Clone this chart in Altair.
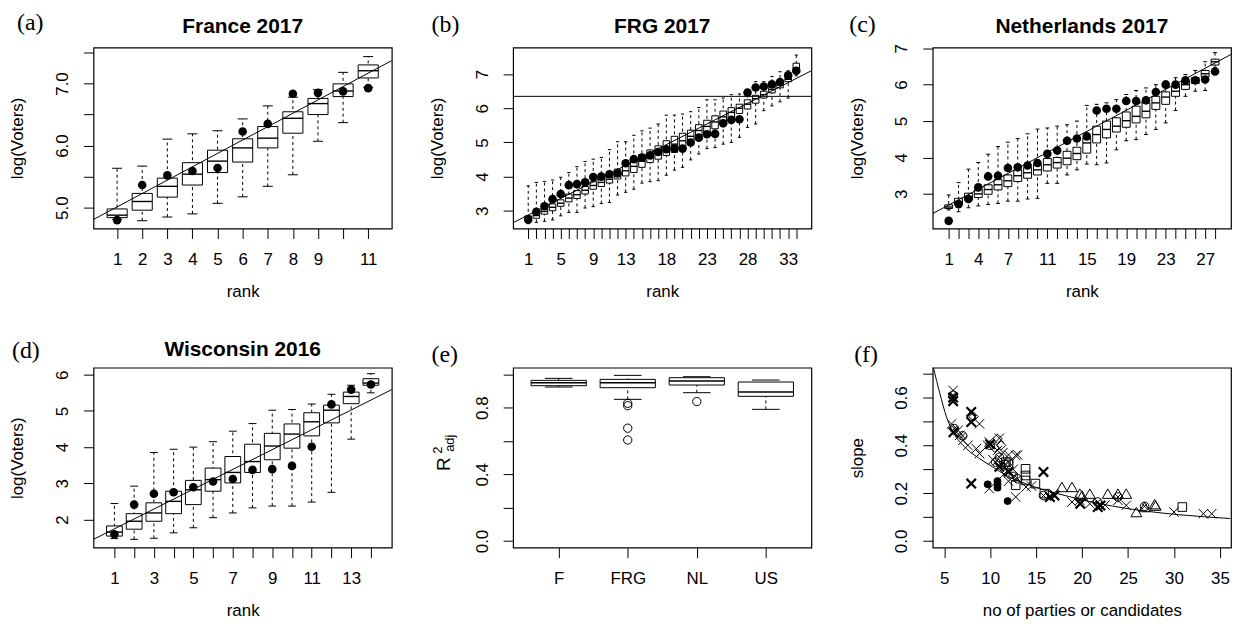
import json
import altair as alt
import pandas as pd

SANS = "Liberation Sans"
SERIF = "Liberation Serif"

# ---------------- (a) France 2017 ----------------
fr_rank = list(range(1, 12))
fr_wlo = [4.81, 4.79, 4.85, 4.90, 5.07, 5.175, 5.344, 5.53, 6.07, 6.37, 6.94]
fr_q1 = [4.84, 4.96, 5.17, 5.365, 5.566, 5.735, 5.963, 6.20, 6.50, 6.79, 7.09]
fr_med = [4.88, 5.10, 5.344, 5.54, 5.75, 5.963, 6.12, 6.44, 6.677, 6.88, 7.206]
fr_q3 = [4.98, 5.23, 5.476, 5.725, 5.926, 6.11, 6.307, 6.545, 6.76, 6.995, 7.30]
fr_whi = [5.635, 5.67, 6.105, 6.19, 6.24, 6.43, 6.64, 6.78, 6.90, 7.18, 7.434]
fr_obs = [4.80, 5.365, 5.52, 5.59, 5.64, 6.228, 6.35, 6.836, 6.85, 6.873, 6.926]
fr_line_x = [0.06, 11.94]
fr_line_y = [4.81, 7.37]
fr_xshown = [1, 2, 3, 4, 5, 6, 7, 8, 9, 11]
fr_yticks = [5.0, 5.5, 6.0, 6.5, 7.0, 7.5]
fr_yshown = [5.0, 6.0, 7.0]

# ---------------- (b) FRG 2017 ----------------
frg_rank = list(range(1, 35))
frg_wlo = [2.62, 2.66, 2.69, 2.73, 2.85, 2.95, 2.95, 3.08, 3.12, 3.21, 3.24, 3.46, 3.54, 3.63, 3.81, 3.85, 3.88,
           4.04, 4.19, 4.27, 4.49, 4.66, 4.82, 4.85, 4.95, 5.00, 5.15, 5.44, 5.54, 5.93, 6.07, 6.19, 6.30, 6.95]
frg_q1 = [2.72, 2.78, 2.90, 3.00, 3.13, 3.26, 3.36, 3.49, 3.63, 3.71, 3.81, 3.93, 4.02, 4.12, 4.27, 4.41, 4.51,
          4.62, 4.71, 4.82, 5.00, 5.18, 5.27, 5.40, 5.58, 5.72, 5.85, 5.98, 6.15, 6.30, 6.45, 6.60, 6.78, 7.07]
frg_med = [2.78, 2.86, 2.98, 3.10, 3.22, 3.37, 3.47, 3.60, 3.74, 3.83, 3.92, 4.07, 4.17, 4.30, 4.45, 4.60, 4.72,
           4.85, 4.95, 5.05, 5.18, 5.35, 5.47, 5.60, 5.75, 5.88, 6.00, 6.12, 6.28, 6.40, 6.55, 6.68, 6.85, 7.18]
frg_q3 = [2.85, 2.93, 3.05, 3.20, 3.32, 3.49, 3.59, 3.71, 3.85, 3.95, 4.02, 4.22, 4.32, 4.50, 4.65, 4.78, 4.90,
          5.05, 5.18, 5.27, 5.36, 5.52, 5.65, 5.78, 5.92, 6.02, 6.12, 6.25, 6.38, 6.50, 6.62, 6.75, 6.95, 7.32]
frg_whi = [3.73, 3.83, 3.86, 3.90, 3.98, 4.12, 4.29, 4.44, 4.51, 4.56, 4.79, 5.02, 5.02, 5.21, 5.34, 5.42, 5.54,
           5.80, 5.80, 5.83, 5.90, 6.02, 6.25, 6.25, 6.30, 6.40, 6.42, 6.51, 6.78, 6.78, 6.93, 7.07, 7.10, 7.56]
frg_obs = [2.74, 2.97, 3.13, 3.34, 3.49, 3.75, 3.78, 3.83, 3.99, 4.00, 4.07, 4.09, 4.39, 4.51, 4.56, 4.62, 4.72,
           4.80, 4.82, 4.82, 5.00, 5.14, 5.24, 5.25, 5.56, 5.66, 5.68, 6.46, 6.61, 6.64, 6.70, 6.77, 6.97, 7.10]
frg_line_x = [-0.86, 35.86]
frg_line_y = [2.65, 7.10]
frg_hline = [6.35]
frg_xshown = [1, 5, 9, 13, 18, 23, 28, 33]
frg_yticks = [3, 4, 5, 6, 7]

# ---------------- (c) Netherlands 2017 ----------------
nl_rank = list(range(1, 29))
nl_wlo = [2.56, 2.51, 2.62, 2.67, 2.71, 2.74, 2.80, 2.80, 2.86, 2.88, 3.29, 3.29, 3.52, 3.66, 3.82, 3.80, 3.85,
          4.21, 4.46, 4.49, 4.63, 4.77, 4.95, 5.29, 5.68, 5.82, 5.84, 6.47]
nl_q1 = [2.60, 2.70, 2.83, 2.90, 2.99, 3.11, 3.20, 3.34, 3.43, 3.52, 3.63, 3.71, 3.80, 3.94, 4.12, 4.40, 4.54,
         4.70, 4.83, 4.95, 5.09, 5.32, 5.46, 5.68, 5.87, 6.03, 6.21, 6.54]
nl_med = [2.64, 2.78, 2.92, 3.00, 3.12, 3.25, 3.36, 3.50, 3.58, 3.66, 3.80, 3.86, 3.98, 4.11, 4.40, 4.63, 4.77,
          4.86, 5.01, 5.13, 5.27, 5.50, 5.66, 5.82, 6.00, 6.12, 6.30, 6.63]
nl_q3 = [2.70, 2.88, 3.02, 3.12, 3.25, 3.39, 3.52, 3.66, 3.73, 3.80, 3.97, 4.00, 4.17, 4.28, 4.54, 4.86, 5.00,
         5.09, 5.25, 5.41, 5.50, 5.68, 5.80, 5.96, 6.10, 6.19, 6.39, 6.70]
nl_whi = [2.97, 3.31, 3.68, 3.86, 4.09, 4.30, 4.42, 4.52, 4.65, 4.78, 4.81, 4.86, 4.90, 5.00, 5.43, 5.46, 5.50,
          5.59, 5.73, 5.84, 5.91, 6.00, 6.10, 6.19, 6.28, 6.39, 6.63, 6.88]
nl_obs = [2.26, 2.72, 2.86, 3.18, 3.48, 3.50, 3.71, 3.73, 3.78, 3.85, 4.10, 4.19, 4.46, 4.52, 4.58, 5.29, 5.34,
          5.34, 5.55, 5.55, 5.57, 5.80, 6.00, 6.00, 6.12, 6.12, 6.14, 6.36]
nl_line_x = [-0.62, 29.62]
nl_line_y = [2.46, 6.83]
nl_xshown = [1, 4, 7, 11, 15, 19, 23, 27]
nl_yticks = [3, 4, 5, 6, 7]

# ---------------- (d) Wisconsin 2016 ----------------
wi_rank = list(range(1, 15))
wi_wlo = [1.47, 1.45, 1.48, 1.63, 1.77, 2.05, 2.18, 2.32, 2.37, 2.37, 2.48, 2.75, 4.22, 5.50]
wi_q1 = [1.54, 1.73, 1.95, 2.16, 2.41, 2.78, 3.01, 3.30, 3.65, 3.97, 4.31, 4.67, 5.20, 5.71]
wi_med = [1.65, 1.95, 2.18, 2.50, 2.82, 3.10, 3.30, 3.60, 4.03, 4.36, 4.70, 5.02, 5.40, 5.77]
wi_q3 = [1.82, 2.16, 2.46, 2.78, 3.08, 3.42, 3.74, 4.08, 4.38, 4.64, 4.95, 5.16, 5.52, 5.89]
wi_whi = [2.44, 2.92, 3.85, 3.94, 4.00, 4.15, 4.44, 4.65, 5.02, 5.04, 5.19, 5.46, 5.71, 6.03]
wi_obs = [1.59, 2.41, 2.71, 2.75, 2.89, 3.05, 3.12, 3.37, 3.39, 3.48, 4.01, 5.18, 5.59, 5.73]
wi_line_x = [-0.06, 15.06]
wi_line_y = [1.45, 5.59]
wi_xshown = [1, 3, 5, 7, 9, 11, 13]
wi_yticks = [2, 3, 4, 5, 6]

# ---------------- (e) adjusted R^2 ----------------
e_groups = ["F", "FRG", "NL", "US"]
e_wlo = [0.924, 0.85, 0.89, 0.79]
e_q1 = [0.932, 0.92, 0.936, 0.868]
e_med = [0.95, 0.95, 0.96, 0.894]
e_q3 = [0.964, 0.97, 0.98, 0.954]
e_whi = [0.976, 0.994, 0.986, 0.966]
e_out_group = ["FRG", "FRG", "FRG", "FRG", "NL"]
e_out_val = [0.826, 0.812, 0.677, 0.606, 0.837]
e_yticks = [0.0, 0.2, 0.4, 0.6, 0.8, 1.0]
e_yshown = [0.0, 0.4, 0.8]

# ---------------- (f) slope vs number of parties ----------------
f_cross_x = [5.97, 5.8, 6.5, 6.68, 7.04, 7.58, 8.5, 8.84, 8.84, 9.73, 9.9, 10.8, 11.0, 11.4, 12.0, 12.78, 13.0,
             9.9, 12.78, 13.9, 12.0, 11.5, 14.5, 16.9, 18.9, 19.76, 20.84, 23.9, 24.8, 30.0, 33.2, 34.1, 22.5,
             12.5, 11.2, 10.3]
f_cross_y = [0.63, 0.49, 0.463, 0.442, 0.421, 0.40, 0.386, 0.366, 0.49, 0.40, 0.414, 0.379, 0.43, 0.37, 0.36,
             0.358, 0.36, 0.219, 0.184, 0.226, 0.25, 0.28, 0.23, 0.198, 0.163, 0.17, 0.156, 0.17, 0.149, 0.121,
             0.114, 0.114, 0.15, 0.30, 0.32, 0.34]
f_bold_x = [5.97, 5.97, 7.94, 7.94, 7.94, 15.8, 16.5, 17.0, 19.8, 21.7, 22.0, 6.0, 10.0, 11.0, 12.0]
f_bold_y = [0.60, 0.585, 0.54, 0.498, 0.24, 0.289, 0.184, 0.19, 0.156, 0.142, 0.148, 0.455, 0.405, 0.31, 0.29]
f_otimes_x = [5.97, 6.1, 7.0, 10.6, 11.0, 11.6, 12.0, 12.5, 15.8, 21.7, 23.9, 26.8, 10.0, 13.0]
f_otimes_y = [0.61, 0.47, 0.44, 0.33, 0.35, 0.32, 0.33, 0.27, 0.19, 0.163, 0.184, 0.145, 0.40, 0.26]
f_diamond_x = [10.8, 11.2, 8.2, 10.5]
f_diamond_y = [0.428, 0.40, 0.52, 0.39]
f_square_x = [11.7, 12.0, 13.85, 13.85, 13.85, 14.92, 12.78, 15.9, 30.9]
f_square_y = [0.33, 0.32, 0.302, 0.274, 0.253, 0.24, 0.233, 0.198, 0.142]
f_tri_x = [17.8, 18.9, 20.0, 19.76, 20.84, 22.8, 23.9, 24.8, 25.9, 26.8, 27.9, 28.0]
f_tri_y = [0.226, 0.226, 0.19, 0.198, 0.198, 0.198, 0.198, 0.198, 0.121, 0.142, 0.154, 0.148]
f_dot_x = [9.73, 10.8, 10.8, 10.8, 11.9]
f_dot_y = [0.237, 0.25, 0.237, 0.223, 0.167]
f_curve_x = [3.81, 4.53, 5.25, 5.97, 7.4, 8.83, 10.27, 11.7, 13.85, 16.0, 18.15, 20.0, 23.3, 26.9, 30.5, 36.1]
f_curve_y = [0.728, 0.617, 0.519, 0.456, 0.387, 0.345, 0.31, 0.275, 0.24, 0.212, 0.19, 0.172, 0.146, 0.125,
             0.11, 0.094]
f_xticks = [5, 10, 15, 20, 25, 30, 35]
f_yticks = [0.0, 0.1, 0.2, 0.3, 0.4, 0.5, 0.6, 0.7]
f_yshown = [0.0, 0.2, 0.4, 0.6]

W = 300
H_TOP = 182
H_BOT = 181


def shown_expr(shown):
    return f"indexof({json.dumps(shown)}, datum.value) >= 0 ? datum.label : ''"


def text_layer(txt, x, y, font, size, weight="normal", align="left", baseline="top", angle=0):
    kw = dict(font=font, fontSize=size, fontWeight=weight, align=align, baseline=baseline, color="black")
    if angle:
        kw["angle"] = angle
    return alt.Chart(pd.DataFrame({"t": [txt]})).mark_text(**kw).encode(
        text="t:N", x=alt.value(x), y=alt.value(y))


def letter_layer(letter, lx, ly):
    return text_layer(letter, lx, ly, SERIF, 24)


def title_layer(title, ty):
    return text_layer(title, W / 2, ty, SANS, 21, weight="bold", align="center", baseline="alphabetic")


def box_layers(df, X, Y, pos):
    base = alt.Chart(df).transform_calculate(
        bl=f"datum.{pos} - 0.4", br=f"datum.{pos} + 0.4",
        cl=f"datum.{pos} - 0.2", cr=f"datum.{pos} + 0.2",
    )
    whisk = base.mark_rule(color="black", strokeWidth=1, strokeDash=[3, 3]).encode(
        x=X(pos), y=Y("wlo"), y2="whi")
    cap_lo = base.mark_rule(color="black", strokeWidth=1).encode(x=X("cl"), x2="cr", y=Y("wlo"))
    cap_hi = base.mark_rule(color="black", strokeWidth=1).encode(x=X("cl"), x2="cr", y=Y("whi"))
    box = base.mark_rect(fill="white", stroke="black", strokeWidth=1).encode(
        x=X("bl"), x2="br", y=Y("q1"), y2="q3")
    medl = base.mark_rule(color="black", strokeWidth=1.4).encode(x=X("bl"), x2="br", y=Y("med"))
    return [whisk, cap_lo, cap_hi, box, medl]


def box_panel(rank, wlo, q1, med, q3, whi, obs, xdom, ydom, xshown, yticks, yshown, yfmt,
              line_x, line_y, title, letter, lpos, ty, height, hline=None, anchor=False):
    df = pd.DataFrame(dict(rank=rank, wlo=wlo, q1=q1, med=med, q3=q3, whi=whi, obs=obs))
    xs = alt.Scale(domain=xdom, nice=False, zero=False)
    ys = alt.Scale(domain=ydom, nice=False, zero=False)
    xa = alt.Axis(values=rank, labelExpr=shown_expr(xshown), title="rank", format="d")
    ya = alt.Axis(values=yticks, labelExpr=shown_expr(yshown), title="log(Voters)", format=yfmt)

    def X(f):
        return alt.X(f, type="quantitative", scale=xs, axis=xa)

    def Y(f):
        return alt.Y(f, type="quantitative", scale=ys, axis=ya)

    layers = box_layers(df, X, Y, "rank")
    if hline is not None:
        layers.append(alt.Chart(pd.DataFrame({"h": hline})).mark_rule(color="black", strokeWidth=1).encode(
            y=Y("h")))
    layers.append(alt.Chart(pd.DataFrame(dict(lx=line_x, ly=line_y))).mark_line(
        color="black", strokeWidth=1, clip=True).encode(x=X("lx"), y=Y("ly")))
    layers.append(alt.Chart(df).mark_circle(color="black", size=75, opacity=1).encode(x=X("rank"), y=Y("obs")))
    layers.append(letter_layer(letter, lpos[0], lpos[1]))
    layers.append(title_layer(title, ty))
    if anchor:
        layers.append(alt.Chart(pd.DataFrame({"a": [0]})).mark_rule(opacity=0, strokeWidth=1).encode(
            x=alt.value(-84), x2=alt.value(-84), y=alt.value(-37), y2=alt.value(-36)))
    return alt.layer(*layers).properties(width=W, height=height)


pa = box_panel(fr_rank, fr_wlo, fr_q1, fr_med, fr_q3, fr_whi, fr_obs, [0.06, 11.94], [4.665, 7.58],
               fr_xshown, fr_yticks, fr_yshown, ".1f", fr_line_x, fr_line_y, "France 2017", "(a)",
               (-77, -37), -15, H_TOP, anchor=True)
pb = box_panel(frg_rank, frg_wlo, frg_q1, frg_med, frg_q3, frg_whi, frg_obs, [-0.86, 35.86], [2.48, 7.78],
               frg_xshown, frg_yticks, frg_yticks, "d", frg_line_x, frg_line_y, "FRG 2017", "(b)",
               (-82, -35), -15, H_TOP, hline=frg_hline)
pc = box_panel(nl_rank, nl_wlo, nl_q1, nl_med, nl_q3, nl_whi, nl_obs, [-0.62, 29.62], [2.05, 7.02],
               nl_xshown, nl_yticks, nl_yticks, "d", nl_line_x, nl_line_y, "Netherlands 2017", "(c)",
               (-84, -35), -15, H_TOP)
pd_ = box_panel(wi_rank, wi_wlo, wi_q1, wi_med, wi_q3, wi_whi, wi_obs, [-0.06, 15.06], [1.22, 6.195],
                wi_xshown, wi_yticks, wi_yticks, "d", wi_line_x, wi_line_y, "Wisconsin 2016", "(d)",
                (-82, -29), -12, H_BOT)

# ---- (e) ----
e_df = pd.DataFrame(dict(pos=[e_groups.index(g) + 1 for g in e_groups], wlo=e_wlo, q1=e_q1, med=e_med,
                         q3=e_q3, whi=e_whi))
e_out = pd.DataFrame(dict(pos=[e_groups.index(g) + 1 for g in e_out_group], val=e_out_val))
exs = alt.Scale(domain=[0.34, 4.66], nice=False, zero=False)
eys = alt.Scale(domain=[-0.04, 1.04], nice=False, zero=False)
exa = alt.Axis(values=[1, 2, 3, 4], labelExpr=f"{json.dumps(e_groups)}[datum.value - 1]", title=None)
eya = alt.Axis(values=e_yticks, labelExpr=shown_expr(e_yshown), title=None, format=".1f")


def EX(f):
    return alt.X(f, type="quantitative", scale=exs, axis=exa)


def EY(f):
    return alt.Y(f, type="quantitative", scale=eys, axis=eya)


e_layers = box_layers(e_df, EX, EY, "pos")
e_layers.append(alt.Chart(e_out).mark_point(shape="circle", filled=False, color="black", strokeWidth=1,
                                            size=70, opacity=1).encode(x=EX("pos"), y=EY("val")))
e_title_parts = ["R", "2", "adj"]
e_layers.append(text_layer(e_title_parts[0], -63, 97, SANS, 19, align="center", baseline="alphabetic",
                           angle=270))
e_layers.append(text_layer(e_title_parts[1], -72, 83, SANS, 13, align="center", baseline="alphabetic",
                           angle=270))
e_layers.append(text_layer(e_title_parts[2], -59, 76, SANS, 13, align="center", baseline="alphabetic",
                           angle=270))
e_layers.append(letter_layer("(e)", -82, -25))
pe = alt.layer(*e_layers).properties(width=W, height=H_BOT)

# ---- (f) ----
fxs = alt.Scale(domain=[3.75, 36.2], nice=False, zero=False)
fys = alt.Scale(domain=[-0.028, 0.725], nice=False, zero=False)
fxa = alt.Axis(values=f_xticks, title="no of parties or candidates", format="d")
fya = alt.Axis(values=f_yticks, labelExpr=shown_expr(f_yshown), title="slope", format=".1f")


def FX(f):
    return alt.X(f, type="quantitative", scale=fxs, axis=fxa)


def FY(f):
    return alt.Y(f, type="quantitative", scale=fys, axis=fya)


XPATH = "M-1,-1L1,1M1,-1L-1,1"
OTIMES = "M-1,0A1,1,0,1,1,1,0A1,1,0,1,1,-1,0M-0.7,-0.7L0.7,0.7M0.7,-0.7L-0.7,0.7"


def scatter(xs_, ys_, shape, size, sw=1.0, filled=False):
    return alt.Chart(pd.DataFrame(dict(x=xs_, y=ys_))).mark_point(
        shape=shape, filled=filled, color="black", strokeWidth=sw, size=size, opacity=1
    ).encode(x=FX("x"), y=FY("y"))


f_layers = [
    alt.Chart(pd.DataFrame(dict(x=f_curve_x, y=f_curve_y))).mark_line(
        color="black", strokeWidth=1, clip=True, interpolate="monotone").encode(x=FX("x"), y=FY("y")),
    scatter(f_cross_x, f_cross_y, XPATH, 90),
    scatter(f_bold_x, f_bold_y, XPATH, 90, sw=2.2),
    scatter(f_otimes_x, f_otimes_y, OTIMES, 75),
    scatter(f_diamond_x, f_diamond_y, "diamond", 85),
    scatter(f_square_x, f_square_y, "square", 75),
    scatter(f_tri_x, f_tri_y, "triangle-up", 120),
    scatter(f_dot_x, f_dot_y, "circle", 60, filled=True),
    letter_layer("(f)", -79, -25),
]
pf = alt.layer(*f_layers).properties(width=W, height=H_BOT)

chart = alt.concat(
    pa, pb, pc, pd_, pe, pf, columns=3,
    spacing=alt.RowColnumber(row=140, column=122), bounds="flush",
).properties(
    padding=0, background="white"
).configure_view(
    stroke="black", strokeWidth=1.2
).configure_axis(
    domain=False, grid=False, ticks=True, tickSize=10, tickColor="black", tickWidth=1,
    labelFont=SANS, labelFontSize=17, labelColor="black",
    titleFont=SANS, titleFontSize=17, titleFontWeight="normal", titleColor="black",
    labelOverlap=False, labelFlush=False, minExtent=40, maxExtent=40,
).configure_axisX(
    labelPadding=13, titlePadding=15, labelAngle=0,
).configure_axisY(
    labelPadding=12, titlePadding=27, labelAngle=270, labelAlign="center", labelBaseline="bottom",
)

chart.save("out.html", embed_options={"renderer": "svg", "actions": False})
